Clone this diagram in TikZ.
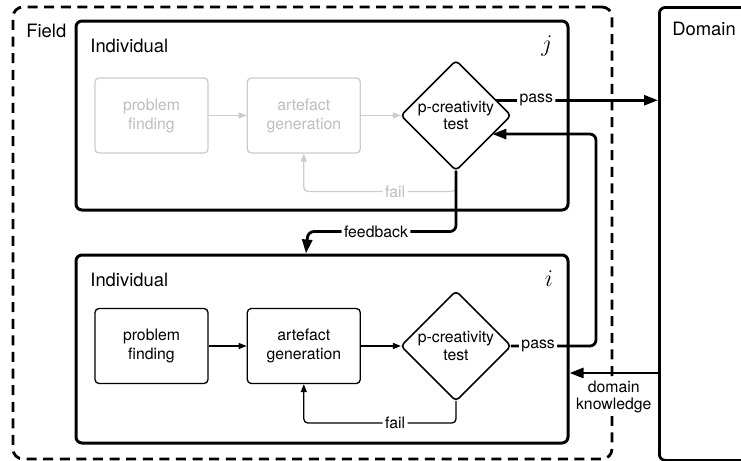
\documentclass[tikz,border=0pt]{standalone}
\usepackage{fontspec}
\setmainfont{TeX Gyre Heros}
\usetikzlibrary{positioning,shapes.geometric,arrows.meta}
\definecolor{ghostline}{gray}{0.8}
\definecolor{ghosttext}{gray}{0.74}

\begin{document}
\begin{tikzpicture}[x=0.5pt,y=-0.5pt,
procbox/.style={rectangle, draw=black, line width=0.65pt, minimum width=56.5pt, minimum height=37.5pt, rounded corners=2pt, align=center, font=\fontsize{7.9}{9.5}\selectfont},
testnode/.style={diamond, draw=black, line width=0.8pt, minimum width=55pt, minimum height=55pt, inner sep=0pt, outer sep=0pt, rounded corners=2pt, align=center, font=\fontsize{7.9}{8.8}\selectfont},
ghost/.style={draw=ghostline, text=ghosttext},
indbox/.style={rectangle, draw=black, line width=1.5pt, minimum width=246pt, rounded corners=3pt},
fieldbox/.style={rectangle, draw=black, line width=1.4pt, dash pattern=on 5pt off 3.3pt, rounded corners=5pt},
domainbox/.style={rectangle, draw=black, line width=1.4pt, rounded corners=3pt},
biglbl/.style={inner sep=0pt, font=\fontsize{9.2}{11}\selectfont},
idlbl/.style={inner sep=0pt, font=\fontsize{13}{13}\selectfont},
lbl/.style={fill=white, inner sep=1.2pt, font=\fontsize{7.9}{8.8}\selectfont},
thinflow/.style={->, >={Triangle[length=4pt, width=3pt]}, line width=0.65pt, rounded corners=2pt},
bigflow/.style={->, >={Triangle[length=7pt, width=5pt]}, line width=1.4pt, rounded corners=3pt}
]
\useasboundingbox (0,0) rectangle (741,461);
% field and domain
\node[fieldbox, minimum width=299.5pt, minimum height=226pt] (field) at (312.5,233) {};
\node[biglbl, anchor=west] (fieldlbl) at (26,31) {Field};
\node[domainbox, anchor=north west, minimum width=60pt, minimum height=226.5pt] (domain) at (658,6) {};
\node[biglbl, anchor=west] (domainlbl) at (672,29) {Domain};

% individual j
\node[indbox, minimum height=94.5pt] (indj) at (322,115.5) {};
\node[biglbl, anchor=west] (indjlbl) at (90,46) {Individual};
\node[idlbl] (jlbl) at (547,46) {$j$};
\node[procbox, ghost] (pfj) at (151.5,115.5) {problem\\finding};
\node[procbox, ghost, right=19pt of pfj] (agj) {artefact\\generation};
\node[testnode, right=20pt of agj] (ptj) {p-creativity\\test};

% individual i
\node[indbox, minimum height=94pt] (indi) at (322,349) {};
\node[biglbl, anchor=west] (indilbl) at (90,280) {Individual};
\node[idlbl] (ilbl) at (549,279) {$i$};
\node[procbox] (pfi) at (151.5,346) {problem\\finding};
\node[procbox, right=19pt of pfi] (agi) {artefact\\generation};
\node[testnode, right=20pt of agi] (pti) {p-creativity\\test};

% inner flows
\draw[thinflow, ghostline] (pfj) -- (agj);
\draw[thinflow, ghostline] (agj) -- (ptj);
\draw[thinflow, ghostline] (ptj.south) -- ++(0,21) -| node[lbl, pos=0.2, text=ghosttext]{fail} (agj.south);
\draw[thinflow] (pfi) -- (agi);
\draw[thinflow] (agi) -- (pti);
\draw[thinflow] (pti.south) -- ++(0,22) -| node[lbl, pos=0.2]{fail} (agi.south);

% outer flows
\draw[bigflow] (ptj.21) -- node[lbl, pos=0.25]{pass} (ptj.21 -| domain.west);
\draw[bigflow] (ptj.south) -- ++(0,61) -- node[lbl, pos=0.54]{feedback} ++(-148,0) -- ([xshift=-8pt]indi.north);
\draw[bigflow] (pti.east) -- node[lbl, pos=0.32]{pass} ++(85,0) |- (ptj.-27);
\coordinate (dk) at (658,373);
\draw[bigflow] (dk) -- node[lbl, below=2pt, align=center]{domain\\knowledge} (dk -| indi.east);
\end{tikzpicture}
\end{document}
